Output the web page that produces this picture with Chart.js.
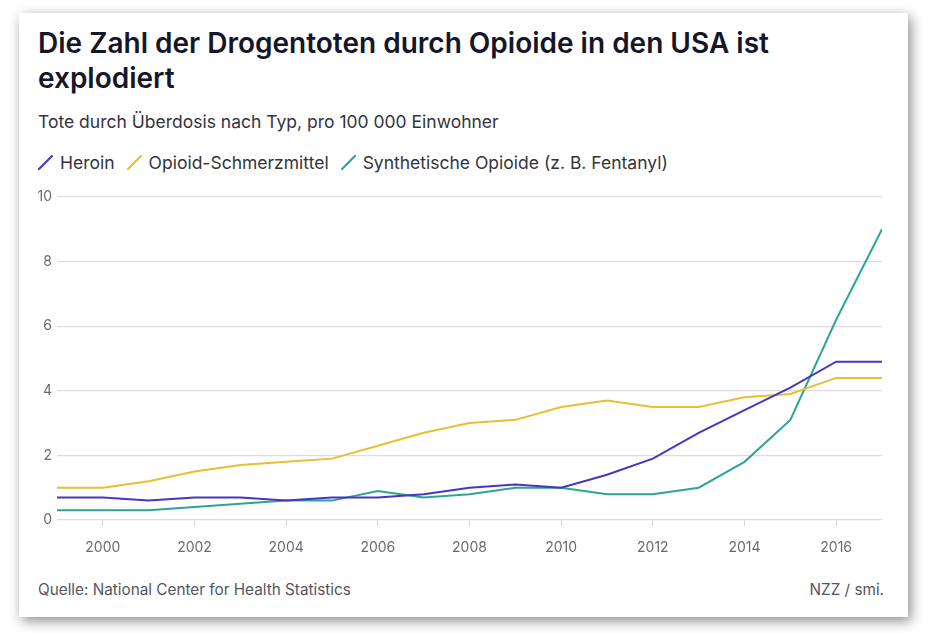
<!DOCTYPE html>
<html><head><meta charset="utf-8">
<script src="https://cdn.jsdelivr.net/npm/chart.js@4"></script>
<style>
html,body{margin:0;padding:0;background:#fff;width:933px;height:633px;overflow:hidden;font-family:Inter,"Noto Sans",sans-serif;}
#card{position:absolute;left:19px;top:13px;width:889px;height:604px;background:#fff;box-shadow:3px 4px 12px rgba(0,0,0,0.45);}
#title{position:absolute;left:38px;top:26px;font-size:28px;font-weight:600;line-height:35px;color:#16162a;letter-spacing:0px;}
#sub{position:absolute;left:38px;top:111px;font-size:17.5px;color:#333340;}
#legend{position:absolute;left:38px;top:152px;font-size:17.5px;color:#333340;display:flex;align-items:center;}
.item{display:flex;align-items:center;margin-right:12px;}
.item svg{margin-right:7px;}
#src{position:absolute;left:38px;top:580px;font-size:15.3px;color:#555560;}
#by{position:absolute;right:49px;top:580px;font-size:15.3px;color:#555560;}
#wrap{position:absolute;left:0;top:180px;width:933px;height:390px;}
</style></head>
<body>
<div id="card"></div>
<div id="title">Die Zahl der Drogentoten durch Opioide in den USA ist<br>explodiert</div>
<div id="sub">Tote durch Überdosis nach Typ, pro 100 000 Einwohner</div>
<div id="legend"></div>
<div id="src">Quelle: National Center for Health Statistics</div>
<div id="by">NZZ / smi.</div>
<div id="wrap"><canvas id="c"></canvas></div>
<script>
const years = [1999,2000,2001,2002,2003,2004,2005,2006,2007,2008,2009,2010,2011,2012,2013,2014,2015,2016,2017];
const heroin = [0.7,0.7,0.6,0.7,0.7,0.6,0.7,0.7,0.8,1.0,1.1,1.0,1.4,1.9,2.7,3.4,4.1,4.9,4.9];
const painkillers = [1.0,1.0,1.2,1.5,1.7,1.8,1.9,2.3,2.7,3.0,3.1,3.5,3.7,3.5,3.5,3.8,3.9,4.4,4.4];
const synthetic = [0.3,0.3,0.3,0.4,0.5,0.6,0.6,0.9,0.7,0.8,1.0,1.0,0.8,0.8,1.0,1.8,3.1,6.2,9.0];
const seriesNames = ["Heroin","Opioid-Schmerzmittel","Synthetische Opioide (z. B. Fentanyl)"];
const seriesColors = ["#4636c8","#e6bf35","#2ea592"];
const xTicks = [2000,2002,2004,2006,2008,2010,2012,2014,2016];
const yTicks = [0,2,4,6,8,10];

const seriesData = [heroin, painkillers, synthetic];
const lg = document.getElementById('legend');
seriesNames.forEach((n,i)=>{
  const d = document.createElement('div'); d.className='item';
  d.innerHTML = '<svg width="15" height="15"><line x1="1" y1="14" x2="14" y2="1" stroke="'+seriesColors[i]+'" stroke-width="2.2" stroke-linecap="round"/></svg><span>'+n+'</span>';
  lg.appendChild(d);
});

new Chart(document.getElementById('c'), {
  type:'line',
  data:{
    datasets: seriesData.map((arr,i)=>({
      label: seriesNames[i],
      data: arr.map((v,j)=>({x:years[j], y:v})),
      borderColor: seriesColors[i],
      backgroundColor: seriesColors[i],
      borderWidth: 2,
      pointRadius: 0,
      tension: 0,
      fill:false
    }))
  },
  options:{
    responsive:true, maintainAspectRatio:false, animation:false,
    layout:{padding:{left:0,right:51,top:17,bottom:0}},
    plugins:{legend:{display:false},tooltip:{enabled:false}},
    scales:{
      x:{
        type:'linear', min:1999, max:2017,
        afterBuildTicks: s=>{ s.ticks = xTicks.map(v=>({value:v})); },
        afterFit: s=>{ s.height = 50; },
        grid:{display:true, drawOnChartArea:false, drawTicks:true, tickLength:6, color:'#d4d4dc'},
        border:{display:false},
        ticks:{padding:13, color:'#6a6a76', font:{family:'Inter', size:14}, callback:v=>String(v), maxRotation:0}
      },
      y:{
        min:0, max:10,
        afterBuildTicks: s=>{ s.ticks = yTicks.map(v=>({value:v})); },
        afterFit: s=>{ s.width = 57; },
        grid:{color:'#dcdce4', lineWidth:1.2, drawTicks:false},
        border:{display:false},
        ticks:{padding:5, color:'#6a6a76', font:{family:'Inter', size:14}}
      }
    }
  }
});
</script>
</body></html>
